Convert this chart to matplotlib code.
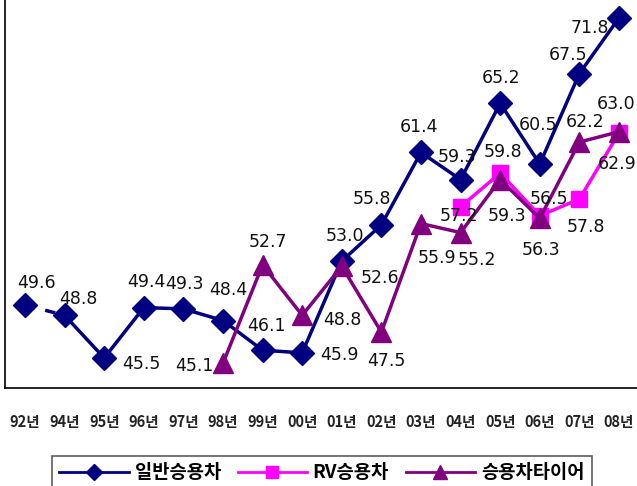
import numpy as np
import matplotlib.pyplot as plt
from matplotlib.lines import Line2D

plt.rcParams['font.family'] = ['Noto Sans CJK KR', 'DejaVu Sans']

years = ['92년', '94년', '95년', '96년', '97년', '98년', '99년', '00년',
         '01년', '02년', '03년', '04년', '05년', '06년', '07년', '08년']
general = [49.6, 48.8, 45.5, 49.4, 49.3, 48.4, 46.1, 45.9,
           53.0, 55.8, 61.4, 59.3, 65.2, 60.5, 67.5, 71.8]
rv_years = ['04년', '05년', '06년', '07년', '08년']
rv = [57.2, 59.8, 56.5, 57.8, 62.9]
tire_years = ['98년', '99년', '00년', '01년', '02년', '03년', '04년',
              '05년', '06년', '07년', '08년']
tire = [45.1, 52.7, 48.8, 52.6, 47.5, 55.9, 55.2, 59.3, 56.3, 62.2, 63.0]

# label offsets in pixels (dx, dy downwards)
off_general = [(12, -22), (14, -16), (37, 6), (3, -26), (1, -25), (5, -31),
               (4, -24), (37, 2), (3, -25), (-9, -26), (-2, -25), (-4, -23),
               (1, -25), (-2, -39), (-11, -19), (-29, 10)]
off_rv = [(-2, 9), (3, -21), (9, -17), (7, 28), (-2, 31)]
off_tire = [(-29, 3), (5, -23), (40, 5), (38, 12), (5, 29), (16, 34),
            (16, 27), (7, 36), (1, 32), (6, -20), (-3, -28)]

xg = np.arange(len(years))
xr = np.array([years.index(y) for y in rv_years])
xt = np.array([years.index(y) for y in tire_years])

navy, magenta, purple = '#000080', '#FF00FF', '#800080'

fig = plt.figure(figsize=(6.37, 4.86), dpi=100)
ax = fig.add_axes([5 / 637, 98 / 486, 632 / 637, 388 / 486])

# dashed gap between 92 and 94
ax.plot(xg[:2], general[:2], color=navy, lw=2.5, dashes=(3, 3), zorder=2)
ax.plot(xg[1:], general[1:], color=navy, lw=2.5, zorder=2)
ax.plot(xg, general, ls='none', marker='D', ms=12, color=navy, zorder=3)
ax.plot(xr, rv, color=magenta, lw=2.5, marker='s', ms=11, zorder=3)
ax.plot(xt, tire, color=purple, lw=2.5, marker='^', ms=14, zorder=4)

for xs, vals, offs in [(xg, general, off_general), (xr, rv, off_rv),
                       (xt, tire, off_tire)]:
    for x, v, (dx, dy) in zip(xs, vals, offs):
        ax.annotate(f'{v:.1f}', (x, v), xytext=(dx, -dy),
                    textcoords='offset pixels', ha='center', va='center',
                    fontsize=12.5, family='DejaVu Sans', color='#111111',
                    zorder=5)

ax.set_xlim(-0.505, 15.455)
ax.set_ylim(43.18, 73.19)
ax.set_xticks(xg)
ax.set_xticklabels(years, fontsize=10.5, fontweight='bold', color='#222222')
ax.tick_params(axis='x', length=0, pad=19)
ax.set_yticks([])
ax.spines['top'].set_visible(False)
ax.spines['right'].set_visible(False)
ax.spines['left'].set_linewidth(1.2)
ax.spines['bottom'].set_linewidth(1.2)

handles = [Line2D([], [], color=navy, lw=2, marker='D', ms=8),
           Line2D([], [], color=magenta, lw=2, marker='s', ms=8),
           Line2D([], [], color=purple, lw=2, marker='^', ms=10)]
leg = fig.legend(handles, ['일반승용차', 'RV승용차', '승용차타이어'],
                 loc='upper left', bbox_to_anchor=(52 / 637, 1 - 456 / 486),
                 ncol=3, fancybox=False, edgecolor='#333333', handlelength=3.7,
                 columnspacing=0.9, handletextpad=0.3, borderpad=0.4,
                 borderaxespad=0,
                 prop={'family': ['Noto Sans CJK KR'], 'weight': 'bold',
                       'size': 13.5})
leg.get_frame().set_linewidth(1.2)

fig.savefig('out.png', dpi=100)
